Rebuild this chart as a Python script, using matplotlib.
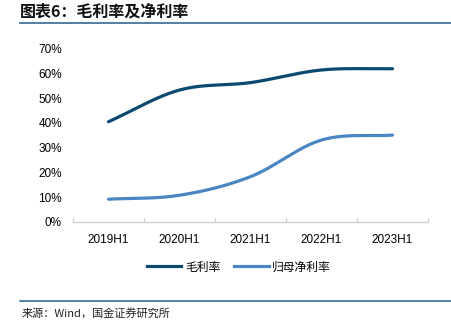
import numpy as np
import matplotlib
matplotlib.use("Agg")
import matplotlib.pyplot as plt
from matplotlib.lines import Line2D

plt.rcParams['font.family'] = ['Liberation Sans', 'Noto Sans CJK SC', 'DejaVu Sans']

periods = ["2019H1", "2020H1", "2021H1", "2022H1", "2023H1"]
gross_margin = [0.405, 0.533, 0.563, 0.614, 0.619]
net_margin = [0.092, 0.108, 0.183, 0.331, 0.351]
y_ticks = [0.0, 0.1, 0.2, 0.3, 0.4, 0.5, 0.6, 0.7]
y_tick_labels = ["0%", "10%", "20%", "30%", "40%", "50%", "60%", "70%"]

title = "图表6：毛利率及净利率"
source = "来源：Wind，国金证券研究所"
series_names = ["毛利率", "归母净利率"]
colors = ["#0b4a6f", "#4a86c4"]


def smooth(xs, ys, n=40):
    """Catmull-Rom curve through the given points (smoothed line style)."""
    xs = np.asarray(xs, float)
    ys = np.asarray(ys, float)
    px = np.concatenate([[2 * xs[0] - xs[1]], xs, [2 * xs[-1] - xs[-2]]])
    py = np.concatenate([[2 * ys[0] - ys[1]], ys, [2 * ys[-1] - ys[-2]]])
    ox, oy = [], []
    t = np.linspace(0, 1, n)
    for i in range(1, len(px) - 2):
        for p, out in ((px, ox), (py, oy)):
            p0, p1, p2, p3 = p[i - 1], p[i], p[i + 1], p[i + 2]
            seg = 0.5 * ((2 * p1) + (-p0 + p2) * t
                         + (2 * p0 - 5 * p1 + 4 * p2 - p3) * t ** 2
                         + (-p0 + 3 * p1 - 3 * p2 + p3) * t ** 3)
            out.extend(seg if i == 1 else seg[1:])
    return np.array(ox), np.array(oy)


fig = plt.figure(figsize=(4.52, 3.22), dpi=100)
ax = fig.add_axes([0.1615, 0.3106, 0.7855, 0.5382])

x = np.arange(len(periods))
for vals, c in zip([gross_margin, net_margin], colors):
    sx, sy = smooth(x, vals)
    ax.plot(sx, sy, color=c, lw=2.3, solid_capstyle='round')

ax.set_xlim(-0.5, len(periods) - 0.5)
ax.set_ylim(0, 0.7)
ax.set_yticks(y_ticks)
ax.set_yticklabels(y_tick_labels, fontsize=8.5)
ax.set_xticks(x)
ax.set_xticklabels(periods, fontsize=8.5)
ax.set_xticks(np.arange(-0.5, len(periods), 1.0), minor=True)
ax.tick_params(axis='y', length=0, pad=8)
ax.tick_params(axis='x', which='major', length=0, pad=9)
ax.tick_params(axis='x', which='minor', direction='in', length=3, color='#d0d0d0', width=1)
for s in ['top', 'right', 'left']:
    ax.spines[s].set_visible(False)
ax.spines['bottom'].set_color('#d0d0d0')
ax.spines['bottom'].set_linewidth(1)

handles = [Line2D([0], [0], color=c, lw=2.3) for c in colors]
fig.legend(handles, series_names, loc='center', bbox_to_anchor=(0.529, 1 - 267 / 322),
           ncol=2, frameon=False, handlelength=2.9, handletextpad=0.3,
           columnspacing=1.2, prop={'family': ['Noto Sans CJK SC'], 'size': 8.5})

fig.text(20 / 452, 1 - 12 / 322, title, fontsize=11.5, fontweight='bold',
         family=['Noto Sans CJK SC'], va='center', ha='left', color='#111111')
fig.add_artist(Line2D([20 / 452, 1.0], [1 - 22.5 / 322] * 2, color='#1f5f8e', lw=1.1))
fig.add_artist(Line2D([20 / 452, 1.0], [1 - 300.7 / 322] * 2, color='#1f5f8e', lw=1.1))
fig.text(22 / 452, 1 - 313 / 322, source, fontsize=8, family=['Noto Sans CJK SC'],
         va='center', ha='left', color='#222222')

fig.savefig("out.png", dpi=100)
